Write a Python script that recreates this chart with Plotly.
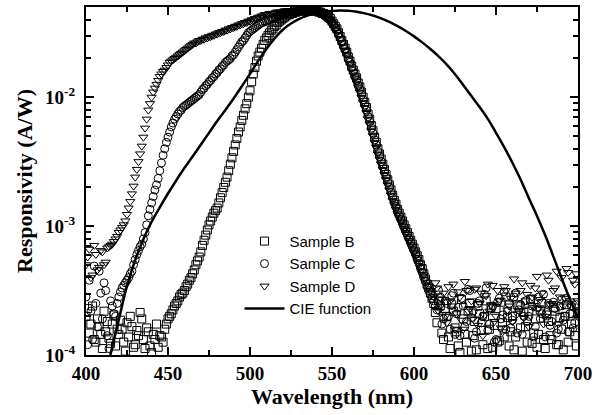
import plotly.graph_objects as go

wavelength = list(range(400, 701))

sample_b_log = [
    -3.70, -3.64, -3.83, -3.76, -3.62, -3.88, -3.90, -3.72, -3.78, -3.84,
    -3.95, -3.66, -3.82, -3.74, -3.87, -3.91, -3.76, -3.69, -3.93, -3.80,
    -3.84, -3.73, -3.80, -3.90, -3.97, -3.75, -3.86, -3.70, -3.78, -3.94,
    -3.92, -3.81, -3.85, -3.67, -3.72, -3.88, -3.95, -3.79, -3.82, -3.93,
    -3.98, -3.84, -3.88, -3.76, -3.94, -3.85, -3.86, -3.90, -3.80, -3.76,
    -3.72, -3.70, -3.68, -3.65, -3.62, -3.60, -3.58, -3.55, -3.53, -3.52,
    -3.50, -3.47, -3.45, -3.42, -3.40, -3.37, -3.34, -3.30, -3.27, -3.24,
    -3.20, -3.15, -3.11, -3.07, -3.03, -2.99, -2.96, -2.93, -2.90, -2.88,
    -2.86, -2.82, -2.78, -2.74, -2.70, -2.66, -2.62, -2.57, -2.52, -2.47,
    -2.42, -2.37, -2.32, -2.27, -2.23, -2.18, -2.14, -2.09, -2.05, -2.00,
    -1.95, -1.88, -1.82, -1.77, -1.72, -1.68, -1.65, -1.62, -1.59, -1.56,
    -1.54, -1.52, -1.50, -1.48, -1.47, -1.45, -1.44, -1.42, -1.41, -1.40,
    -1.39, -1.38, -1.37, -1.36, -1.36, -1.35, -1.35, -1.34, -1.34, -1.33,
    -1.33, -1.33, -1.33, -1.33, -1.33, -1.33, -1.33, -1.33, -1.33, -1.33,
    -1.33, -1.33, -1.34, -1.34, -1.35, -1.35, -1.36, -1.37, -1.38, -1.39,
    -1.41, -1.43, -1.45, -1.47, -1.50, -1.53, -1.56, -1.59, -1.62, -1.65,
    -1.69, -1.72, -1.76, -1.79, -1.82, -1.85, -1.89, -1.92, -1.96, -2.00,
    -2.04, -2.08, -2.13, -2.17, -2.22, -2.26, -2.31, -2.35, -2.40, -2.44,
    -2.48, -2.52, -2.56, -2.60, -2.64, -2.68, -2.72, -2.76, -2.80, -2.83,
    -2.87, -2.90, -2.93, -2.96, -2.99, -3.02, -3.05, -3.08, -3.11, -3.14,
    -3.17, -3.20, -3.23, -3.26, -3.30, -3.33, -3.37, -3.41, -3.45, -3.48,
    -3.52, -3.56, -3.60, -3.67, -3.75, -3.58, -3.62, -3.83, -3.88, -3.64,
    -3.70, -3.86, -3.95, -3.61, -3.66, -3.79, -3.82, -3.93, -3.98, -3.57,
    -3.72, -3.84, -3.90, -3.66, -3.60, -3.97, -3.85, -3.74, -3.96, -3.62,
    -3.68, -3.81, -3.92, -3.70, -3.58, -3.95, -3.80, -3.63, -3.94, -3.77,
    -3.64, -3.90, -3.89, -3.59, -3.75, -3.86, -3.55, -3.71, -3.93, -3.82,
    -3.70, -3.96, -3.86, -3.61, -3.62, -3.79, -3.97, -3.67, -3.78, -3.90,
    -3.66, -3.57, -3.91, -3.83, -3.72, -3.94, -3.84, -3.65, -3.60, -3.88,
    -3.95, -3.69, -3.74, -3.85, -3.88, -3.63, -3.66, -3.92, -3.92, -3.71,
    -3.80, -3.96, -3.70, -3.61, -3.90, -3.82, -3.76, -3.68, -3.85, -3.93,
    -3.68,
]

sample_c_log = [
    -3.55, -3.92, -3.42, -3.66, -3.88, -3.31, -3.60, -3.78, -3.35, -3.52,
    -3.72, -3.44, -3.50, -3.85, -3.95, -3.58, -3.62, -3.68, -3.70, -3.60,
    -3.55, -3.51, -3.48, -3.46, -3.44, -3.42, -3.40, -3.37, -3.35, -3.30,
    -3.26, -3.22, -3.19, -3.16, -3.14, -3.10, -3.05, -2.99, -2.92, -2.87,
    -2.82, -2.77, -2.72, -2.68, -2.63, -2.57, -2.51, -2.45, -2.40, -2.35,
    -2.31, -2.27, -2.23, -2.20, -2.17, -2.15, -2.13, -2.11, -2.10, -2.08,
    -2.07, -2.06, -2.05, -2.04, -2.03, -2.02, -2.01, -2.00, -1.99, -1.98,
    -1.96, -1.94, -1.93, -1.91, -1.90, -1.88, -1.87, -1.85, -1.84, -1.82,
    -1.81, -1.79, -1.78, -1.76, -1.75, -1.73, -1.72, -1.71, -1.70, -1.68,
    -1.67, -1.65, -1.63, -1.61, -1.59, -1.57, -1.56, -1.54, -1.52, -1.50,
    -1.49, -1.48, -1.47, -1.46, -1.45, -1.44, -1.43, -1.42, -1.42, -1.41,
    -1.41, -1.40, -1.40, -1.39, -1.39, -1.38, -1.38, -1.37, -1.37, -1.36,
    -1.36, -1.35, -1.35, -1.35, -1.35, -1.34, -1.34, -1.34, -1.34, -1.33,
    -1.33, -1.33, -1.33, -1.33, -1.33, -1.33, -1.33, -1.33, -1.33, -1.33,
    -1.33, -1.33, -1.34, -1.34, -1.35, -1.36, -1.37, -1.38, -1.39, -1.40,
    -1.42, -1.44, -1.46, -1.48, -1.51, -1.54, -1.57, -1.60, -1.63, -1.66,
    -1.70, -1.73, -1.77, -1.80, -1.84, -1.87, -1.91, -1.94, -1.98, -2.02,
    -2.06, -2.10, -2.15, -2.19, -2.24, -2.28, -2.33, -2.37, -2.42, -2.46,
    -2.50, -2.54, -2.58, -2.62, -2.66, -2.70, -2.74, -2.78, -2.82, -2.85,
    -2.89, -2.92, -2.95, -2.98, -3.01, -3.04, -3.07, -3.10, -3.13, -3.16,
    -3.19, -3.22, -3.26, -3.29, -3.33, -3.36, -3.40, -3.43, -3.47, -3.50,
    -3.53, -3.56, -3.58, -3.62, -3.65, -3.50, -3.55, -3.76, -3.72, -3.58,
    -3.60, -3.70, -3.80, -3.54, -3.52, -3.84, -3.68, -3.63, -3.85, -3.56,
    -3.62, -3.78, -3.74, -3.49, -3.50, -3.71, -3.66, -3.87, -3.82, -3.60,
    -3.58, -3.75, -3.70, -3.53, -3.48, -3.81, -3.76, -3.64, -3.62, -3.90,
    -3.88, -3.59, -3.56, -3.72, -3.69, -3.51, -3.80, -3.66, -3.60, -3.79,
    -3.73, -3.55, -3.52, -3.83, -3.65, -3.61, -3.84, -3.70, -3.58, -3.74,
    -3.70, -3.57, -3.62, -3.86, -3.78, -3.63, -3.55, -3.72, -3.68, -3.53,
    -3.86, -3.67, -3.60, -3.77, -3.74, -3.59, -3.64, -3.83, -3.80, -3.62,
    -3.57, -3.73, -3.70, -3.56, -3.82, -3.68, -3.62, -3.79, -3.75, -3.61,
    -3.66,
]

sample_d_log = [
    -3.30, -3.24, -3.18, -3.40, -3.38, -3.15, -3.22, -3.34, -3.32, -3.19,
    -3.20, -3.30, -3.28, -3.17, -3.16, -3.15, -3.14, -3.12, -3.10, -3.08,
    -3.05, -3.03, -3.01, -2.99, -2.96, -2.91, -2.86, -2.81, -2.75, -2.69,
    -2.62, -2.56, -2.50, -2.44, -2.38, -2.31, -2.24, -2.17, -2.10, -2.05,
    -2.00, -1.96, -1.93, -1.90, -1.87, -1.84, -1.82, -1.80, -1.79, -1.77,
    -1.75, -1.73, -1.72, -1.71, -1.70, -1.69, -1.68, -1.67, -1.66, -1.65,
    -1.64, -1.63, -1.62, -1.61, -1.60, -1.59, -1.58, -1.58, -1.57, -1.56,
    -1.56, -1.55, -1.55, -1.54, -1.54, -1.53, -1.53, -1.52, -1.52, -1.51,
    -1.51, -1.50, -1.50, -1.49, -1.49, -1.48, -1.48, -1.47, -1.47, -1.46,
    -1.46, -1.45, -1.45, -1.44, -1.44, -1.43, -1.43, -1.42, -1.42, -1.41,
    -1.41, -1.40, -1.40, -1.39, -1.39, -1.38, -1.38, -1.37, -1.37, -1.36,
    -1.36, -1.36, -1.35, -1.35, -1.35, -1.35, -1.34, -1.34, -1.34, -1.34,
    -1.34, -1.33, -1.33, -1.33, -1.33, -1.33, -1.33, -1.33, -1.33, -1.33,
    -1.33, -1.33, -1.33, -1.33, -1.33, -1.33, -1.33, -1.33, -1.33, -1.33,
    -1.33, -1.34, -1.35, -1.35, -1.36, -1.37, -1.38, -1.39, -1.40, -1.42,
    -1.43, -1.45, -1.47, -1.50, -1.52, -1.55, -1.58, -1.61, -1.64, -1.67,
    -1.71, -1.74, -1.78, -1.81, -1.85, -1.88, -1.92, -1.96, -2.00, -2.04,
    -2.08, -2.12, -2.17, -2.21, -2.26, -2.30, -2.35, -2.39, -2.44, -2.48,
    -2.52, -2.56, -2.60, -2.64, -2.68, -2.72, -2.76, -2.80, -2.83, -2.87,
    -2.90, -2.93, -2.96, -2.99, -3.02, -3.05, -3.08, -3.11, -3.14, -3.17,
    -3.20, -3.23, -3.26, -3.29, -3.32, -3.35, -3.38, -3.41, -3.44, -3.47,
    -3.50, -3.52, -3.55, -3.44, -3.48, -3.66, -3.62, -3.57, -3.52, -3.70,
    -3.75, -3.47, -3.58, -3.62, -3.45, -3.80, -3.68, -3.51, -3.55, -3.73,
    -3.80, -3.43, -3.50, -3.66, -3.64, -3.58, -3.72, -3.49, -3.48, -3.77,
    -3.60, -3.52, -3.85, -3.69, -3.54, -3.45, -3.66, -3.61, -3.46, -3.74,
    -3.70, -3.50, -3.58, -3.79, -3.82, -3.47, -3.50, -3.65, -3.62, -3.56,
    -3.74, -3.41, -3.52, -3.68, -3.66, -3.50, -3.44, -3.71, -3.58, -3.53,
    -3.78, -3.46, -3.55, -3.63, -3.48, -3.39, -3.64, -3.57, -3.52, -3.76,
    -3.70, -3.38, -3.42, -3.61, -3.60, -3.50, -3.48, -3.35, -3.76, -3.55,
    -3.40, -3.62, -3.56, -3.33, -3.36, -3.58, -3.62, -3.42, -3.45, -3.37,
    -3.58,
]

cie_wavelength = list(range(410, 701, 5))
cie_responsivity = [
    5.6e-5, 1.02e-4, 1.88e-4, 3.43e-4, 5.45e-4, 7.91e-4, 1.08e-3, 1.40e-3, 1.79e-3, 2.26e-3,
    2.82e-3, 3.47e-3, 4.28e-3, 5.29e-3, 6.53e-3, 7.96e-3, 9.78e-3, 0.01215, 0.01518, 0.01914,
    0.02364, 0.02859, 0.03337, 0.03728, 0.04051, 0.0430, 0.04484, 0.04607, 0.04676, 0.0470,
    0.04677, 0.0460, 0.04474, 0.04302, 0.04089, 0.03837, 0.03558, 0.03266, 0.02966, 0.02664,
    0.02364, 0.02074, 0.01791, 0.01509, 0.01246, 0.0102, 0.0084, 0.0068, 0.0053, 0.0041,
    0.0031, 0.0023, 0.00165, 0.0012, 0.00085, 0.00058, 0.000395, 0.000272, 0.000193,
]

series_names = ["Sample B", "Sample C", "Sample D", "CIE function"]
series_symbols = ["square-open", "circle-open", "triangle-down-open"]

fig = go.Figure()
for name, sym, logs in zip(series_names[:3], series_symbols,
                           [sample_b_log, sample_c_log, sample_d_log]):
    fig.add_trace(go.Scatter(
        x=wavelength, y=[10 ** v for v in logs], mode="markers", name=name,
        marker=dict(symbol=sym, size=8, color="black", line=dict(width=1, color="black")),
    ))
fig.add_trace(go.Scatter(
    x=cie_wavelength, y=cie_responsivity, mode="lines", name=series_names[3],
    line=dict(color="black", width=2.5, shape="spline"),
))

serif = "Liberation Serif"
fig.update_layout(
    width=596, height=415,
    margin=dict(l=86, r=18, t=7, b=60),
    paper_bgcolor="white", plot_bgcolor="white",
    showlegend=True,
    legend=dict(x=0.312, y=0.374, xanchor="left", yanchor="top",
                font=dict(family="Liberation Sans", size=15, color="black"),
                bgcolor="rgba(0,0,0,0)", tracegroupgap=0, itemwidth=40),
    xaxis=dict(
        range=[400, 700], tickvals=[400, 450, 500, 550, 600, 650, 700],
        ticks="inside", ticklen=8, tickwidth=2, tickcolor="black",
        minor=dict(tickvals=[425, 475, 525, 575, 625, 675], ticks="inside", ticklen=5, tickwidth=2, tickcolor="black"),
        showline=True, linewidth=2, linecolor="black", mirror="allticks",
        showgrid=False, zeroline=False, automargin=False,
        tickfont=dict(family=serif, size=19, color="black", weight="bold"),
        title=dict(text="Wavelength (nm)", font=dict(family=serif, size=22, color="black", weight="bold"), standoff=5),
    ),
    yaxis=dict(
        type="log", range=[-4, -1.3],
        tickvals=[1e-4, 1e-3, 1e-2],
        ticktext=["10<sup>-4</sup>", "10<sup>-3</sup>", "10<sup>-2</sup>"],
        ticks="inside", ticklen=8, tickwidth=2, tickcolor="black",
        ticklabelstandoff=5,
        minor=dict(tickvals=[2e-4, 3e-4, 4e-4, 5e-4, 6e-4, 7e-4, 8e-4, 9e-4,
                             2e-3, 3e-3, 4e-3, 5e-3, 6e-3, 7e-3, 8e-3, 9e-3,
                             2e-2, 3e-2, 4e-2],
                   ticks="inside", ticklen=5, tickwidth=2, tickcolor="black"),
        showline=True, linewidth=2, linecolor="black", mirror="allticks",
        showgrid=False, zeroline=False, automargin=False,
        tickfont=dict(family=serif, size=19, color="black", weight="bold"),
        title=dict(text="Responsivity (A/W)", font=dict(family=serif, size=22, color="black", weight="bold"), standoff=6),
    ),
)

fig.write_html("out.html", config={"displayModeBar": False},
               post_script="document.body.style.margin='0';")
